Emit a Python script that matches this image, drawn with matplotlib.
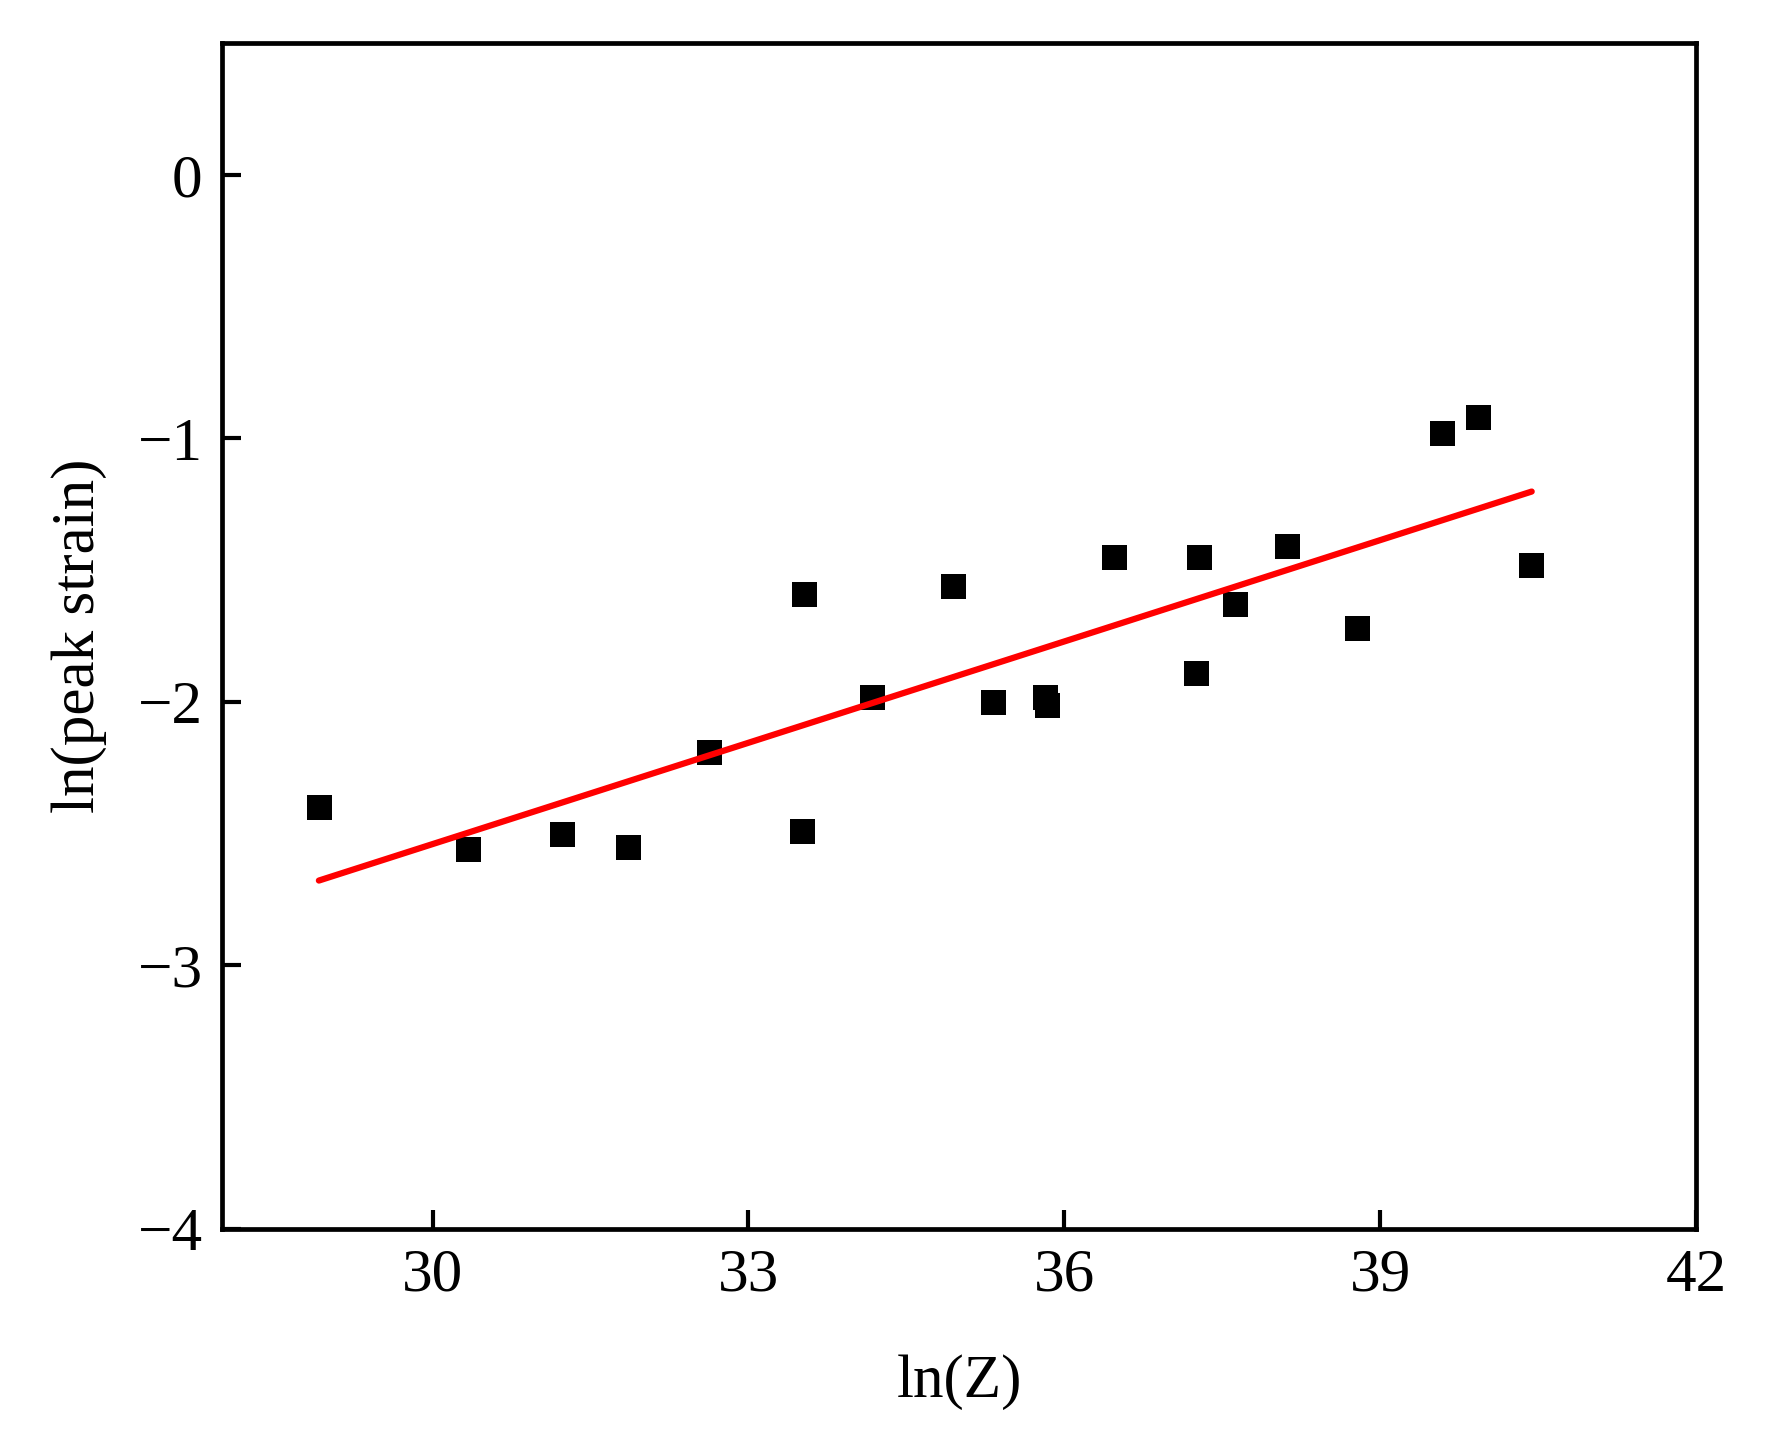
import matplotlib
matplotlib.use("Agg")
import matplotlib.pyplot as plt

plt.rcParams['font.family'] = ['Liberation Serif', 'DejaVu Serif']

ln_z = [28.92, 30.34, 31.23, 31.86, 32.63, 33.51, 33.53, 34.17, 34.94, 35.32,
        35.82, 35.84, 36.47, 37.25, 37.28, 37.62, 38.12, 38.78, 39.59, 39.93, 40.43]
ln_strain = [-2.40, -2.56, -2.50, -2.55, -2.19, -2.49, -1.59, -1.98, -1.56, -2.00,
             -1.98, -2.01, -1.45, -1.89, -1.45, -1.63, -1.41, -1.72, -0.98, -0.92, -1.48]
fit_x = [28.92, 40.44]
fit_y = [-2.678, -1.202]

xticks = [30, 33, 36, 39, 42]
yticks = [0, -1, -2, -3, -4]

fig = plt.figure(figsize=(17.82, 14.52), dpi=100)
ax = fig.add_axes([0.1246, 0.1536, 0.8271, 0.8168])

ax.plot(ln_z, ln_strain, linestyle='none', marker='s', markersize=18,
        color='black', markeredgewidth=0)
ax.plot(fit_x, fit_y, color='#ff0000', linewidth=4.5, solid_capstyle='round')

ax.set_xlim(28, 42)
ax.set_ylim(-4, 0.5)
ax.set_xticks(xticks)
ax.set_yticks(yticks)
ax.set_xticklabels([str(t) for t in xticks])
ax.set_yticklabels(['0' if t == 0 else '\u2212' + str(-t) for t in yticks])

for s in ax.spines.values():
    s.set_linewidth(3.4)
ax.tick_params(direction='in', length=14, width=3.0, labelsize=44, pad=14)

ax.set_xlabel('ln(Z)', fontsize=44, labelpad=36)
ax.set_ylabel('ln(peak strain)', fontsize=44, labelpad=22)

fig.savefig('out.png', dpi=100, facecolor='white')
